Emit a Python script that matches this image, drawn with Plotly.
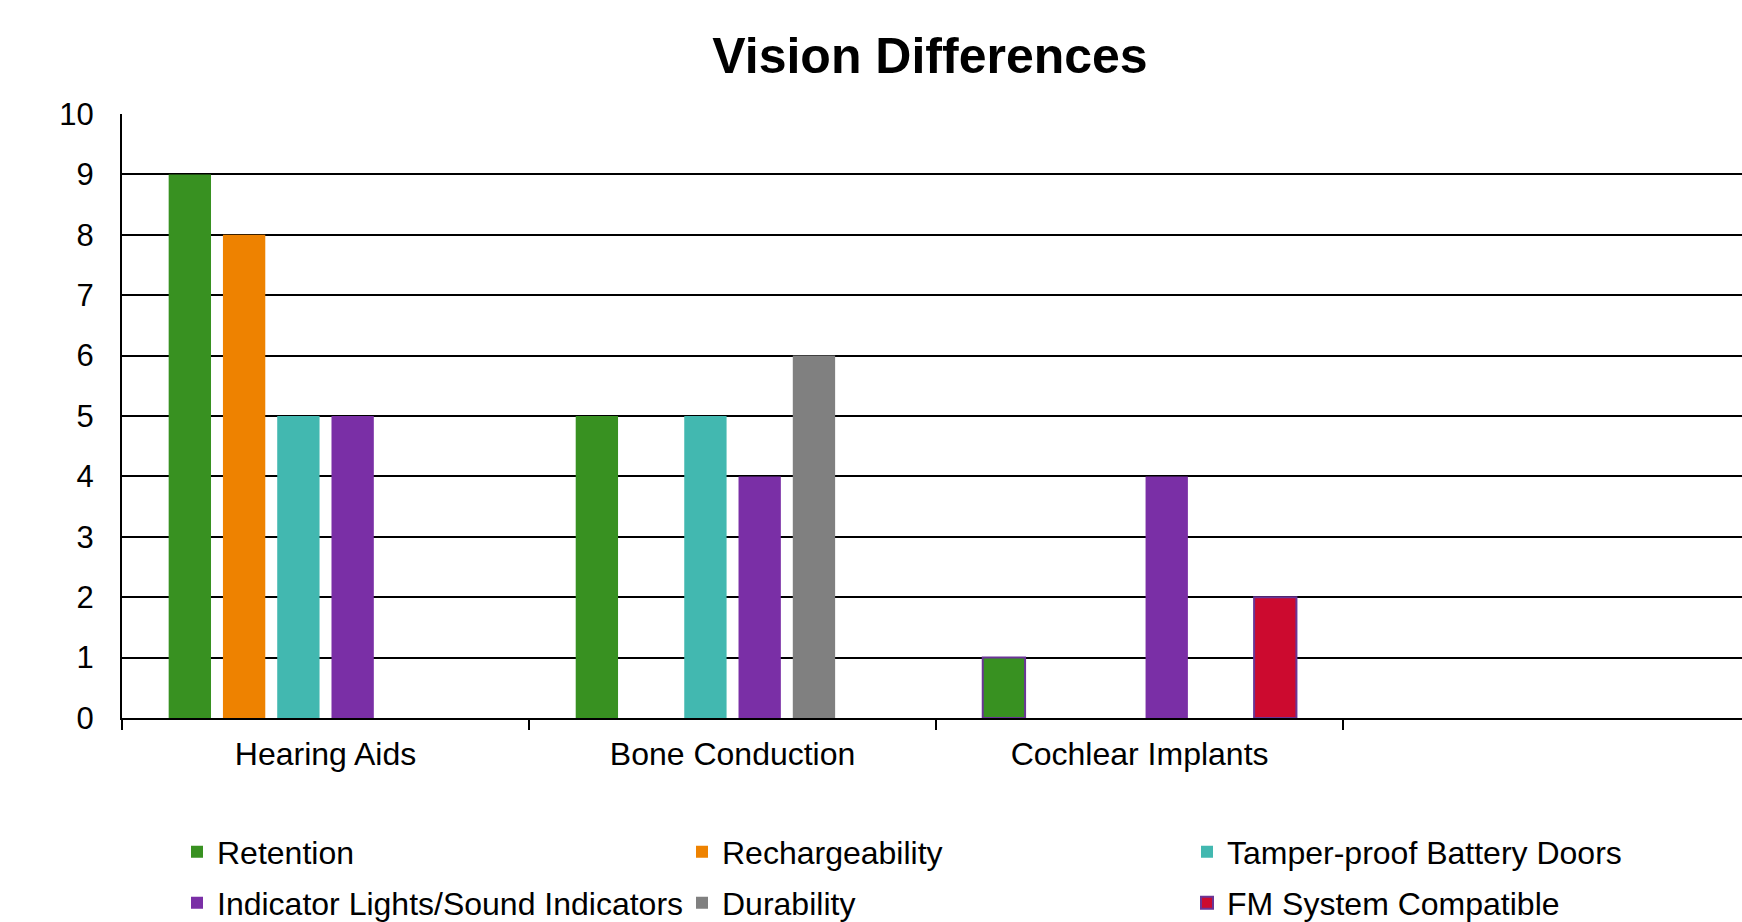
import plotly.graph_objects as go

# Device categories (the trailing blank slot keeps the axis running on to the right)
CATEGORIES = ["Hearing Aids", "Bone Conduction", "Cochlear Implants", " "]

RETENTION = [9, 5, 1, None]
RECHARGEABILITY = [8, None, None, None]
TAMPER_PROOF = [5, 5, None, None]
INDICATORS = [5, 4, 4, None]
DURABILITY = [None, 6, None, None]
FM_SYSTEM = [None, None, 2, None]

Y_TICKS = [0, 1, 2, 3, 4, 5, 6, 7, 8, 9, 10]

FONT = "Liberation Sans, Arial, sans-serif"
OUTLINE = "#6A3596"

series = [
    ("Retention", RETENTION, "#389121", dict(color=["#389121", "#389121", OUTLINE, "#389121"], width=[0, 0, 2, 0]), "legend"),
    ("Rechargeability", RECHARGEABILITY, "#EE8200", dict(width=0), "legend"),
    ("Tamper-proof Battery Doors", TAMPER_PROOF, "#42B8B0", dict(width=0), "legend"),
    ("Indicator Lights/Sound Indicators", INDICATORS, "#7A2FA6", dict(width=0), "legend2"),
    ("Durability", DURABILITY, "#808080", dict(width=0), "legend2"),
    ("FM System Compatible", FM_SYSTEM, "#CC0A2F", dict(color=OUTLINE, width=2), "legend2"),
]

fig = go.Figure()
for name, vals, color, line, leg in series:
    fig.add_trace(go.Bar(
        x=CATEGORIES, y=vals, name=name,
        marker=dict(color=color, line=line),
        legend=leg,
    ))

W, H = 1742, 922
legend_common = dict(
    orientation="h",
    xref="container", yref="container",
    x=177 / W, xanchor="left",
    yanchor="middle",
    entrywidth=460, entrywidthmode="pixels",
    font=dict(family=FONT, size=32, color="#000000"),
    bgcolor="rgba(0,0,0,0)",
    traceorder="normal",
    itemclick=False,
)

fig.update_layout(
    width=W, height=H,
    margin=dict(l=122, r=0, t=114, b=204),
    paper_bgcolor="white", plot_bgcolor="white",
    barmode="group", bargap=0.2, bargroupgap=0.22,
    title=dict(
        text="<b>Vision Differences</b>",
        font=dict(family=FONT, size=50, color="#000000"),
        xref="container", yref="container",
        x=930 / W, xanchor="center",
        y=1 - 55 / H, yanchor="middle",
    ),
    legend=dict(legend_common, y=1 - 852 / H),
    legend2=dict(legend_common, y=1 - 903 / H),
    xaxis=dict(
        type="category",
        range=[-0.5, 3.48],
        showline=True, linecolor="#000000", linewidth=2,
        ticks="outside", tickson="boundaries", ticklen=10, tickwidth=2, tickcolor="#000000",
        showgrid=False,
        tickfont=dict(family=FONT, size=32, color="#000000"),
        ticklabelstandoff=7,
    ),
    yaxis=dict(
        range=[0, 10],
        tickvals=Y_TICKS,
        showline=True, linecolor="#000000", linewidth=2,
        showgrid=True, gridcolor="#000000", gridwidth=2,
        zeroline=False,
        ticks="",
        tickfont=dict(family=FONT, size=31, color="#000000"),
        ticklabelstandoff=20,
    ),
)

fig.write_html("out.html")
